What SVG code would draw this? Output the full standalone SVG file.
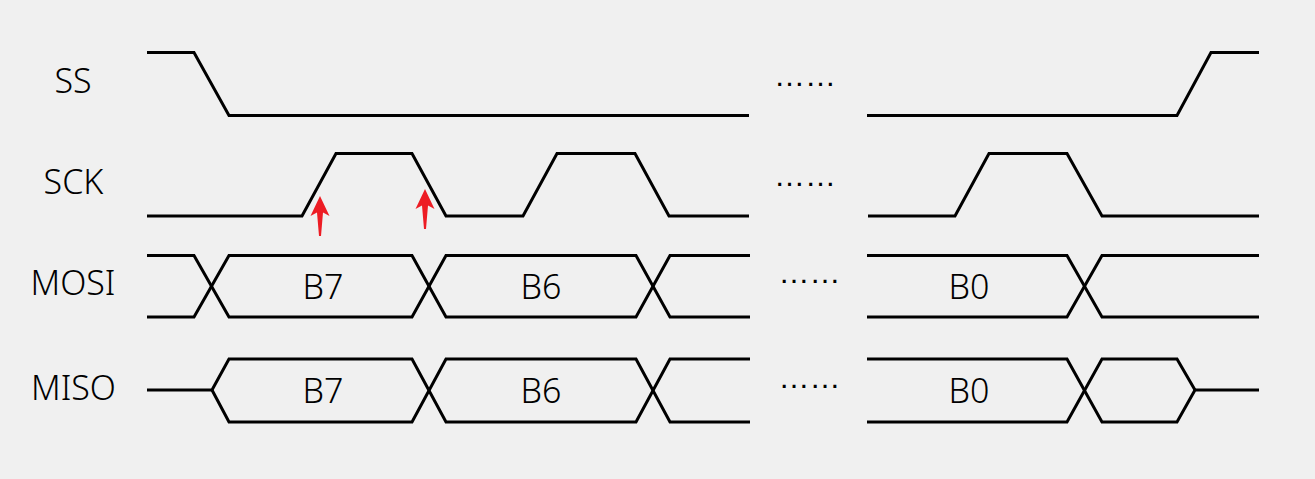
<svg xmlns="http://www.w3.org/2000/svg" width="1315" height="479" viewBox="0 0 1315 479">
<style>
.w{fill:none;stroke:#000;stroke-width:3;stroke-linejoin:miter;stroke-linecap:butt}
.lbl{font-family:"Noto Sans","Open Sans","Liberation Sans",sans-serif;font-size:34px;font-weight:300;fill:#000;text-anchor:middle}
.dots{font-family:"Liberation Sans",Arial,sans-serif;font-size:31px;fill:#000;text-anchor:middle}
.arr{fill:#ED1C24}
</style>
<defs>
<path id="arrow" d="M320,196 L329.5,216 L323,212.5 L321,236 L319,236 L317,212.5 L310.5,216 Z"/>
</defs>
<rect x="0" y="0" width="1315" height="479" fill="#F0F0F0"/>

<g id="ss">
<text class="lbl" x="73" y="93">SS</text>
<path class="w" d="M147,52.5 L194,52.5 L229,115.5 L749,115.5"/>
<text class="dots" x="805" y="85.5">……</text>
<path class="w" d="M867,115.5 L1177,115.5 L1211,52.5 L1259,52.5"/>
</g>

<g id="sck">
<text class="lbl" x="73.5" y="194">SCK</text>
<path class="w" d="M147,216 L302,216 L336,153.5 L412,153.5 L446,216 L523,216 L557,153.5 L635,153.5 L669,216 L749,216"/>
<text class="dots" x="805" y="186">……</text>
<path class="w" d="M868,216 L955,216 L989,153.5 L1067,153.5 L1102,216 L1259,216"/>
<use href="#arrow" class="arr"/>
<use href="#arrow" class="arr" transform="translate(105,-7)"/>
</g>

<g id="mosi">
<text class="lbl" x="73" y="295">MOSI</text>
<path class="w" d="M147,255.5 L194,255.5 L229,317 L412,317 L446,255.5 L636,255.5 L670,317 L750,317"/>
<path class="w" d="M147,317 L194,317 L229,255.5 L412,255.5 L446,317 L636,317 L670,255.5 L750,255.5"/>
<text class="lbl" x="323" y="299">B7</text>
<text class="lbl" x="541" y="299">B6</text>
<text class="dots" x="809.5" y="283">……</text>
<path class="w" d="M867,255.5 L1067,255.5 L1102,317 L1259,317"/>
<path class="w" d="M867,317 L1067,317 L1102,255.5 L1259,255.5"/>
<text class="lbl" x="969" y="298.5">B0</text>
</g>

<g id="miso">
<text class="lbl" x="73.5" y="399.5">MISO</text>
<path class="w" d="M147,390 L212,390 L229,359 L412,359 L446,422 L636,422 L670,359 L750,359"/>
<path class="w" d="M212,390 L229,422 L412,422 L446,359 L636,359 L670,422 L750,422"/>
<text class="lbl" x="323" y="402.5">B7</text>
<text class="lbl" x="541" y="402.5">B6</text>
<text class="dots" x="809.5" y="388">……</text>
<path class="w" d="M867,359 L1067,359 L1102,422 L1177,422 L1195,390 L1259,390"/>
<path class="w" d="M867,422 L1067,422 L1102,359 L1177,359 L1195,390"/>
<text class="lbl" x="969" y="402.5">B0</text>
</g>
</svg>
